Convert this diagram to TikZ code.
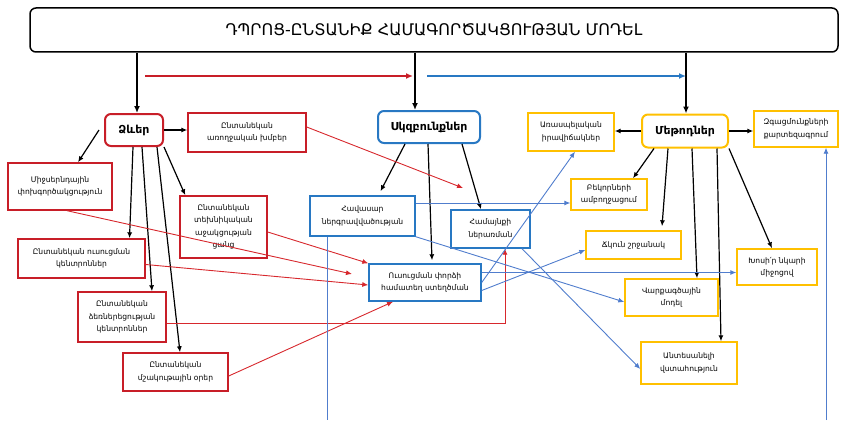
\documentclass[tikz,border=0pt]{standalone}
\usepackage{fontspec}
\setmainfont{DejaVu Sans}
\usetikzlibrary{arrows.meta}
\definecolor{bred}{RGB}{200,30,40}
\definecolor{lred}{RGB}{215,40,45}
\definecolor{bblue}{RGB}{40,120,195}
\definecolor{lblue}{RGB}{80,125,205}
\definecolor{byel}{RGB}{255,192,0}
\begin{document}
\begin{tikzpicture}[x=1pt,y=-1pt,
  sz/.style 2 args={minimum width=#1pt,minimum height=#2pt},
  small/.style={font=\fontsize{7.6}{12.5}\selectfont,align=center,inner sep=0pt},
  redbox/.style={small,draw=bred,line width=1.4pt},
  bluebox/.style={small,draw=bblue,line width=1.4pt},
  yelbox/.style={small,draw=byel,line width=1.4pt},
  mainbox/.style={rounded corners=6pt,line width=2pt,font=\bfseries\fontsize{11}{12}\selectfont,inner sep=0pt},
  blk/.style={draw=black,line width=1.2pt,-{Latex[length=6pt,width=5pt]}},
  rln/.style={draw=lred,line width=0.9pt,-{Latex[length=6pt,width=5pt]}},
  bln/.style={draw=lblue,line width=0.9pt,-{Latex[length=6pt,width=5pt]}},
  thick/.style={line width=2.2pt,-{Latex[length=7pt,width=6pt]}}
]
\useasboundingbox (0,0) rectangle (845,420);

% title
\node[draw=black,line width=1.5pt,rounded corners=6pt,sz={808}{44},font=\fontsize{16}{17}\selectfont] (title) at (434,30) {ԴՊՐՈՑ-ԸՆՏԱՆԻՔ ՀԱՄԱԳՈՐԾԱԿՑՈՒԹՅԱՆ ՄՈԴԵԼ};

% main nodes
\node[mainbox,draw=bred,sz={58}{32}] (forms) at (134,130) {Ձևեր};
\node[mainbox,draw=bblue,sz={102}{32}] (princ) at (429,127) {Սկզբունքներ};
\node[mainbox,draw=byel,sz={86}{33}] (meth) at (685,131) {Մեթոդներ};

% red boxes
\node[redbox,sz={118}{39}] (health) at (247,132.5) {Ընտանեկան\\առողջական խմբեր};
\node[redbox,sz={104}{47}] (inter) at (60,186.5) {Միջսերնդային\\փոխգործակցություն};
\node[redbox,sz={87}{62}] (tech) at (223.5,227) {Ընտանեկան\\տեխնիկական\\աջակցության\\ցանց};
\node[redbox,sz={127}{39}] (learn) at (81.5,258.5) {Ընտանեկան ուսուցման\\կենտրոններ};
\node[redbox,sz={88}{50}] (entre) at (122,317) {Ընտանեկան\\ձեռներեցության\\կենտրոններ};
\node[redbox,sz={105}{38}] (cult) at (175.5,372) {Ընտանեկան\\մշակութային օրեր};

% blue boxes
\node[bluebox,sz={105}{40}] (equal) at (362.5,216) {Հավասար\\ներգրավվածության};
\node[bluebox,sz={79}{38}] (comm) at (490.5,229) {Համայնքի\\ներառման};
\node[bluebox,sz={112}{37}] (cocr) at (425,282.5) {Ուսուցման փորձի\\համատեղ ստեղծման};

% yellow boxes
\node[yelbox,sz={86}{38}] (myth) at (571,132) {Առասպելական\\իրավիճակներ};
\node[yelbox,sz={84}{36}] (emo) at (796,129) {Զգացմունքների\\քարտեզագրում};
\node[yelbox,sz={76}{31}] (frag) at (609,194.5) {Բեկորների\\ամբողջացում};
\node[yelbox,sz={95}{28}] (flex) at (633.5,245) {Ճկուն շրջանակ};
\node[yelbox,sz={80}{36}] (speak) at (777,267) {Խոսի՛ր նկարի\\միջոցով};
\node[yelbox,sz={93}{37}] (behav) at (671.5,297.5) {Վարքագծային\\մոդել};
\node[yelbox,sz={96}{42}] (trust) at (689,363) {Անտեսանելի\\վստահություն};

% title arrows
\draw[thick] ([xshift=3pt]forms.north |- title.south) -- ([xshift=3pt]forms.north);
\draw[thick] ([xshift=-14pt]princ.north |- title.south) -- ([xshift=-14pt]princ.north);
\draw[thick] ([xshift=1pt]meth.north |- title.south) -- ([xshift=1pt]meth.north);
\coordinate (ra) at (145,76);
\coordinate (ba) at (427,76);
\draw[thick,draw=bred] (ra) -- ([xshift=-16pt]ra -| princ);
\draw[thick,draw=bblue] (ba) -- ([xshift=1pt]ba -| meth);

% forms arrows
\draw[blk] (forms.east) -- (forms.east -| health.west);
\draw[blk] ([xshift=-5pt]forms.west) -- ([xshift=18pt]inter.north);
\draw[blk] ([xshift=-1pt]forms.south) -- ([xshift=48pt]learn.north);
\draw[blk] ([xshift=8pt]forms.south) -- ([xshift=30pt]entre.north);
\draw[blk] ([xshift=23pt]forms.south) -- ([xshift=4.5pt]cult.north);
\draw[blk] (forms.south east) -- ([xshift=6pt]tech.north west);

% principles arrows
\draw[blk] ([xshift=-24pt]princ.south) -- ([xshift=18pt,yshift=4pt]equal.north);
\draw[blk] ([xshift=-1pt]princ.south) -- ([xshift=7pt,yshift=3pt]cocr.north);
\draw[blk] ([xshift=33pt]princ.south) -- ([xshift=-9.5pt]comm.north);

% methods arrows
\draw[blk] (meth.west) -- (meth.west -| myth.east);
\draw[blk] (meth.east) -- (meth.east -| emo.west);
\draw[blk] ([xshift=-31pt]meth.south) -- ([xshift=24pt]frag.north);
\draw[blk] ([xshift=-17pt]meth.south) -- ([xshift=28.5pt,yshift=4pt]flex.north);
\draw[blk] ([xshift=7pt]meth.south) -- ([xshift=25.5pt]behav.north);
\draw[blk] ([xshift=32pt]meth.south) -- ([xshift=32pt]trust.north);
\draw[blk] (meth.south east) -- ([xshift=-5pt]speak.north);

% red connectors
\coordinate (rh) at (463,188);
\coordinate (ri) at (352,274);
\draw[rln] ([yshift=5.5pt]health.east) -- (rh);
\draw[rln] ([yshift=-5pt]tech.east) -- (cocr.north west);
\draw[rln] ([xshift=7pt]inter.south) -- (ri);
\draw[rln] ([yshift=-6pt]learn.east) -- ([yshift=-2.5pt]cocr.west);
\draw[rln] ([yshift=-6pt]entre.east) -| ([xshift=14.5pt]comm.south);
\draw[rln] ([yshift=-4pt]cult.east) -- ([xshift=-32pt]cocr.south);

% blue connectors
\coordinate (eqb) at (327,420);
\coordinate (emb) at (826,420);
\draw[draw=lblue,line width=0.9pt] ([xshift=-35.5pt]equal.south) -- (eqb);
\draw[bln] (emb) -- ([xshift=30pt]emo.south);
\draw[bln] ([yshift=13pt]equal.east) -- ([yshift=-8.5pt]frag.west);
\draw[bln] (equal.south east) -- ([yshift=-4.5pt]behav.west);
\draw[bln] ([xshift=31.5pt]comm.south) -- ([yshift=-6pt]trust.west);
\draw[bln] (cocr.east) -- ([xshift=4pt]myth.south);
\draw[bln] ([yshift=-8pt]cocr.east) -- ([yshift=-5pt]flex.west);
\draw[bln] ([yshift=10pt]cocr.east) -- ([yshift=-5.5pt]speak.west);
\end{tikzpicture}
\end{document}
